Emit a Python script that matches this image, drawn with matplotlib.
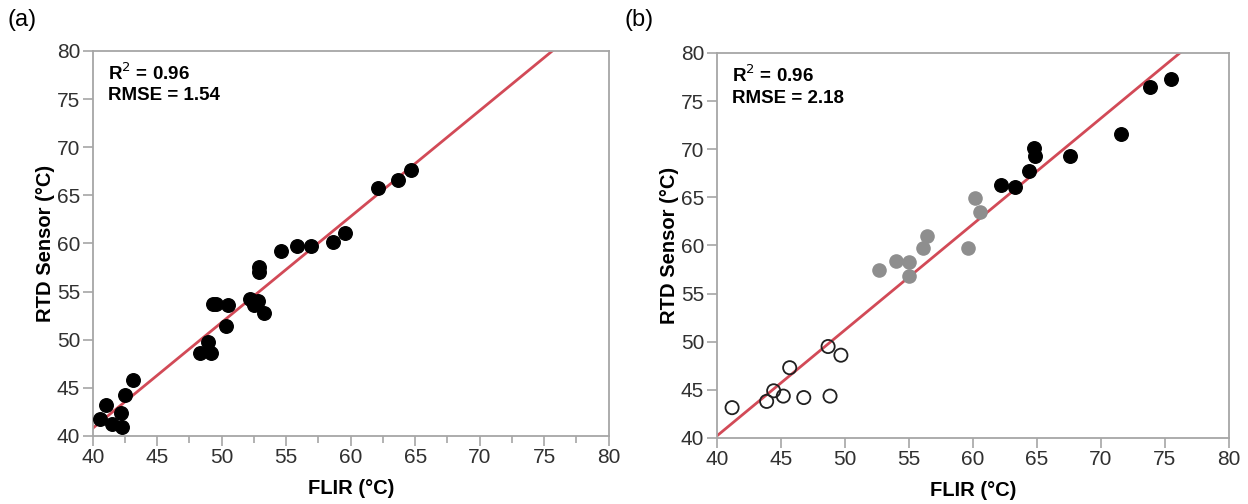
import matplotlib
matplotlib.use("Agg")
import matplotlib.pyplot as plt
from matplotlib.ticker import MultipleLocator

plt.rcParams['font.family'] = ['Liberation Sans', 'DejaVu Sans']

# panel (a): FLIR vs RTD, all black points
a_flir = [40.6, 41.0, 41.5, 42.2, 42.25, 42.5, 43.1, 48.3, 48.9, 49.2, 49.35, 49.55,
          50.5, 50.3, 52.2, 52.5, 52.85, 52.9, 52.9, 53.3, 54.6, 55.8, 56.9, 58.6,
          59.55, 62.1, 63.7, 64.7]
a_rtd = [41.8, 43.2, 41.25, 42.4, 40.9, 44.3, 45.8, 48.6, 49.8, 48.6, 53.75, 53.75,
         53.65, 51.4, 54.2, 53.65, 54.0, 57.5, 57.0, 52.8, 59.2, 59.7, 59.7, 60.2,
         61.1, 65.8, 66.55, 67.6]
a_fit = (1.10, 40.8)   # slope, value at 40
a_txt = ["R$^2$ = 0.96", "RMSE = 1.54"]

# panel (b): three groups
b_open_x = [41.2, 43.9, 44.45, 45.2, 45.7, 46.8, 48.7, 48.85, 49.7]
b_open_y = [43.15, 43.8, 44.9, 44.35, 47.3, 44.2, 49.5, 44.35, 48.6]
b_gray_x = [52.65, 54.0, 55.05, 55.05, 56.15, 56.45, 59.65, 60.6, 60.2]
b_gray_y = [57.4, 58.35, 58.25, 56.85, 59.75, 60.95, 59.75, 63.45, 64.95]
b_black_x = [62.2, 63.3, 64.4, 64.8, 64.9, 67.6, 71.55, 73.85, 75.5]
b_black_y = [66.3, 66.1, 67.7, 70.1, 69.3, 69.3, 71.6, 76.5, 77.3]
b_fit = (1.10, 40.2)
b_txt = ["R$^2$ = 0.96", "RMSE = 2.18"]

red = '#d24a57'
spine = '#a6a6a6'

fig = plt.figure(figsize=(12.48, 5.04), dpi=100)
axa = fig.add_axes([0.0743, 0.135, 0.4134, 0.764])
axb = fig.add_axes([0.5743, 0.131, 0.4103, 0.764])

def style(ax, minor):
    ax.set_xlim(40, 80)
    ax.set_ylim(40, 80)
    ax.xaxis.set_major_locator(MultipleLocator(5))
    ax.yaxis.set_major_locator(MultipleLocator(5))
    if minor:
        ax.xaxis.set_minor_locator(MultipleLocator(2.5))
        ax.tick_params(axis='x', which='minor', length=5, color=spine, width=1.2)
    for s in ax.spines.values():
        s.set_color(spine)
        s.set_linewidth(1.3)
    ax.tick_params(which='major', length=7, color=spine, width=1.2,
                   labelsize=15, labelcolor='#303030', pad=2)
    ax.set_xlabel('FLIR (°C)', fontsize=14.5, fontweight='bold', labelpad=8)
    ax.set_ylabel('RTD Sensor (°C)', fontsize=14.5, fontweight='bold', labelpad=1)

def fitline(ax, fit):
    xs = [40, 80]
    ys = [fit[1] + fit[0] * (x - 40) for x in xs]
    ax.plot(xs, ys, color=red, lw=2, zorder=1, clip_on=True)

def notes(ax, txt):
    ax.text(0.03, 0.97, txt[0], transform=ax.transAxes, fontsize=13.5,
            fontweight='bold', va='top')
    ax.text(0.03, 0.905, txt[1], transform=ax.transAxes, fontsize=13.5,
            fontweight='bold', va='top')

# (a)
style(axa, True)
fitline(axa, a_fit)
axa.scatter(a_flir, a_rtd, s=95, color='black', zorder=3, clip_on=False)
notes(axa, a_txt)

# (b)
style(axb, False)
fitline(axb, b_fit)
axb.scatter(b_open_x, b_open_y, s=90, facecolors='none', edgecolors='#202020',
            linewidths=1.3, zorder=3)
axb.scatter(b_gray_x, b_gray_y, s=90, color='#8e8e8e', zorder=3)
axb.scatter(b_black_x, b_black_y, s=95, color='black', zorder=3)
notes(axb, b_txt)

fig.text(0.006, 0.96, '(a)', fontsize=17, va='center')
fig.text(0.5, 0.96, '(b)', fontsize=17, va='center')

fig.savefig('out.png', dpi=100)
